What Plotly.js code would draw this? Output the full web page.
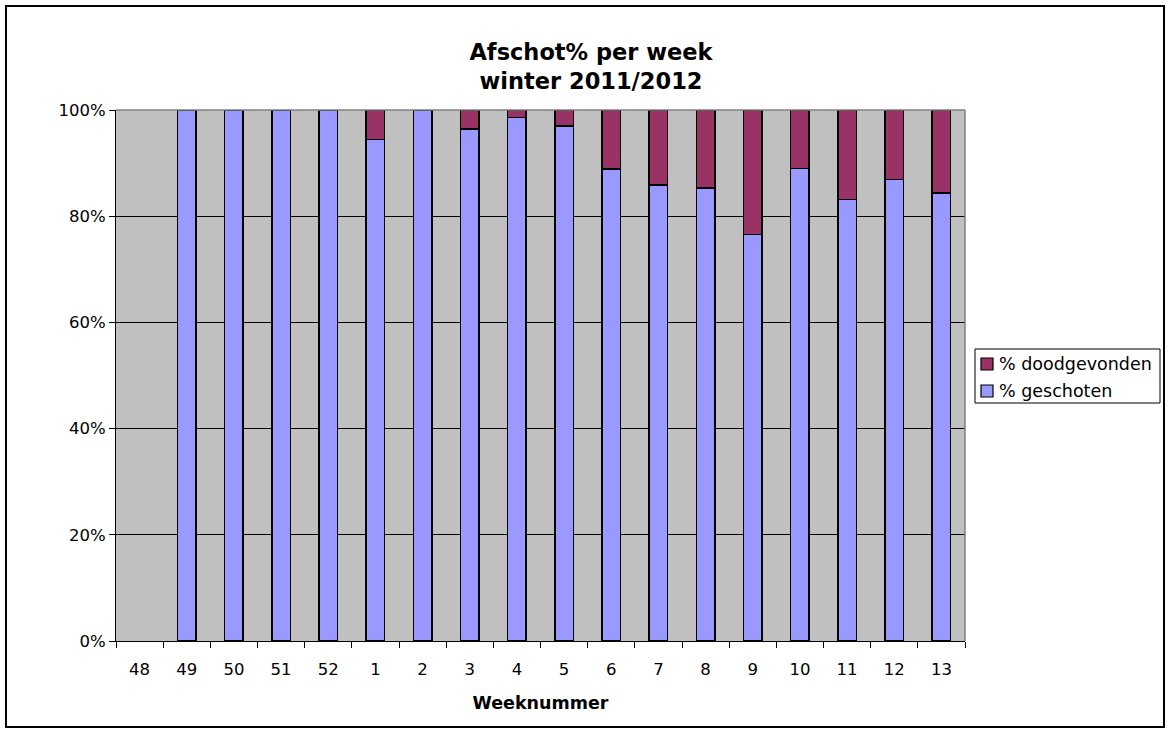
<!DOCTYPE html>
<html>
<head>
<meta charset="utf-8">
<script src="https://cdn.plot.ly/plotly-3.0.1.min.js"></script>
<style>
html,body{margin:0;padding:0;background:#fff;}
#chart{width:1169px;height:733px;}
</style>
</head>
<body>
<div id="chart"></div>
<script>
const weeks = ["48","49","50","51","52","1","2","3","4","5","6","7","8","9","10","11","12","13"];
const geschoten = [null,100,100,100,100,94.4,100,96.4,98.6,97.0,88.9,85.9,85.3,76.6,89.0,83.1,86.9,84.4];
const doodgevonden = [null,0,0,0,0,5.6,0,3.6,1.4,3.0,11.1,14.1,14.7,23.4,11.0,16.9,13.1,15.6];
const seriesNames = ["% geschoten", "% doodgevonden"];
const seriesColors = ["#9999FF", "#993366"];

const W = 1169, H = 733;
const L = 116, R = 965, T = 110, B = 641;
const pw = R - L, ph = B - T;
const px = v => (v - L) / pw;
const py = v => (B - v) / ph;

const traces = [
  {type:'bar', name:seriesNames[0], x:weeks, y:geschoten,
   marker:{color:seriesColors[0], line:{color:'#000000', width:1.5}}, hoverinfo:'skip'},
  {type:'bar', name:seriesNames[1], x:weeks, y:doodgevonden,
   marker:{color:seriesColors[1], line:{color:'#000000', width:1.5}}, hoverinfo:'skip'}
];

// custom legend (reversed order: doodgevonden on top)
const legRows = [{i:1, yc:364}, {i:0, yc:391}];
const shapes = [
  {type:'line', xref:'paper', yref:'paper', x0:0, x1:1, y0:1, y1:1, line:{color:'#808080', width:1.5}, layer:'above'},
  {type:'line', xref:'paper', yref:'paper', x0:1, x1:1, y0:0, y1:1, line:{color:'#808080', width:1.5}, layer:'above'},
  {type:'rect', xref:'paper', yref:'paper', x0:px(6), x1:px(1164), y0:py(727), y1:py(6), line:{color:'#000', width:2}, fillcolor:'rgba(0,0,0,0)'},
  {type:'rect', xref:'paper', yref:'paper', x0:px(975), x1:px(1160), y0:py(403), y1:py(349), line:{color:'#000', width:1}, fillcolor:'#fff'}
];
const annotations = [];
legRows.forEach(r => {
  shapes.push({type:'rect', xref:'paper', yref:'paper', x0:px(981), x1:px(993), y0:py(r.yc+6), y1:py(r.yc-6),
               line:{color:'#000', width:1.2}, fillcolor:seriesColors[r.i]});
  annotations.push({xref:'paper', yref:'paper', x:px(997), y:py(r.yc), xanchor:'left', yanchor:'middle',
                    text:seriesNames[r.i], showarrow:false, font:{size:17.5, color:'#000'}});
});

const layout = {
  width:W, height:H,
  margin:{l:L, r:W-R, t:T, b:H-B, pad:0},
  paper_bgcolor:'#ffffff', plot_bgcolor:'#C0C0C0',
  barmode:'stack', bargap:0.61,
  showlegend:false,
  font:{family:'DejaVu Sans, Verdana, sans-serif', size:16, color:'#000'},
  title:{text:'<b>Afschot% per week<br>winter 2011/2012</b>', x:591/W, xref:'container', xanchor:'center',
         y:1-60/H, yref:'container', yanchor:'middle', font:{size:22.5, family:'DejaVu Sans, Verdana, sans-serif'}},
  xaxis:{type:'category', tickson:'boundaries', ticks:'outside', ticklen:6, tickcolor:'#000', tickwidth:1,
         showline:true, linecolor:'#000', linewidth:1, showgrid:false, tickfont:{size:16.5},
         ticklabelstandoff:13,
         title:{text:'<b>Weeknummer</b>', font:{size:17.5}, standoff:18}},
  yaxis:{range:[0,100], dtick:20, ticksuffix:'%', ticks:'outside', ticklen:6, tickcolor:'#000',
         showline:true, linecolor:'#000', linewidth:1, showgrid:true, gridcolor:'#000', gridwidth:1,
         zeroline:false, tickfont:{size:16.5}},
  shapes:shapes,
  annotations:annotations
};

Plotly.newPlot('chart', traces, layout, {displayModeBar:false, staticPlot:true});
</script>
</body>
</html>
